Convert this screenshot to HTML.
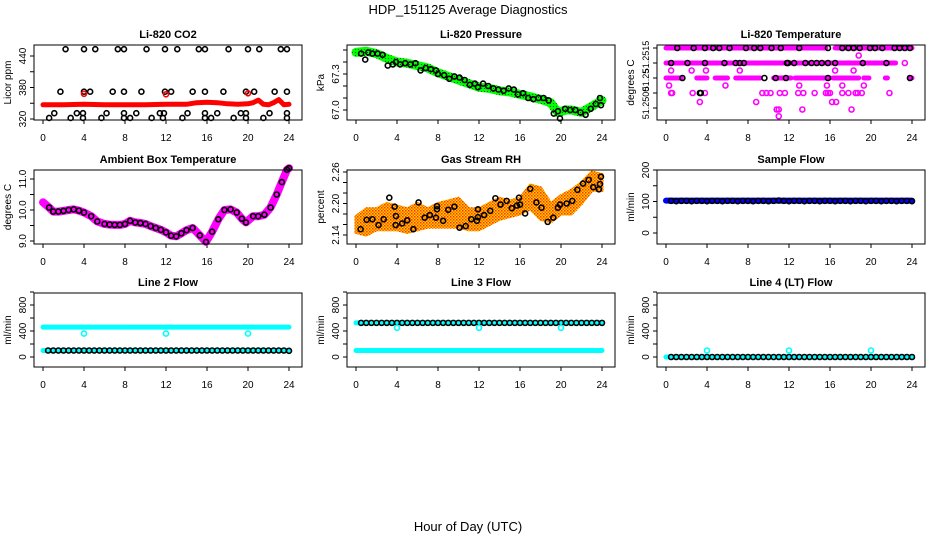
<!DOCTYPE html>
<html><head><meta charset="utf-8">
<style>
html,body{margin:0;padding:0;background:#fff;}
svg{display:block;font-family:"Liberation Sans",Arial,sans-serif;}
</style></head>
<body>
<svg id="chart" width="936" height="540" viewBox="0 0 936 540" xmlns="http://www.w3.org/2000/svg">
<defs>
<pattern id="rhpat" width="3" height="3" patternUnits="userSpaceOnUse">
<rect width="3" height="3" fill="#ffd000"/><rect x="0" y="0" width="1.5" height="1.5" fill="#ff3000"/><rect x="1.5" y="1.5" width="1.5" height="1.5" fill="#ff6000"/>
</pattern>
<pattern id="prpat" width="3" height="3" patternUnits="userSpaceOnUse">
<rect width="3" height="3" fill="#00ff00"/><rect x="1" y="1" width="1" height="1" fill="#006000"/>
</pattern>
</defs>
<text x="468" y="14" text-anchor="middle" font-size="13">HDP_151125  Average Diagnostics</text>
<text x="468" y="531" text-anchor="middle" font-size="13">Hour of Day (UTC)</text>
</svg>
<script>
// ---------- DATA ----------
const hourTicks=[0,4,8,12,16,20,24];
// CO2
const co2BandT=[0,2,4,6,8,10,12,14,15,16,17,18,19,20,20.5,21,21.5,22,22.5,23,23.5,24];
const co2BandV=[347,347,348,347,347,347,348,348,351,352,351,349,348,349,351,356,348,347,351,357,347,348];
const co2PtsT=[2.2,4,5.1,7.3,7.9,10.1,11.9,13.1,15.2,15.8,18.1,20,21.1,23.2,23.8,
 1.7,4,4.6,6.8,7.9,9.6,11.9,12.5,14.6,15.8,17.6,19.8,20.6,22.6,23.8,
 1.1,3.3,3.9,6.2,7.9,9.1,11.4,11.8,14.1,15.8,17,19.3,19.8,22.1,23.8,
 0.6,2.7,3.9,5.7,7.9,8.5,10.6,11.7,13.6,15.8,16.4,18.6,19.8,21.5,23.8];
const co2PtsV=[453,453,453,453,453,453,453,453,453,453,453,453,453,453,453,
 372,372,372,372,372,372,372,372,372,372,372,372,372,372,372,
 331,331,331,331,331,331,331,331,331,331,331,331,331,331,331,
 322,322,322,322,322,322,322,322,322,322,322,322,322,322,322];
const co2RedT=[4,12,20];
const co2RedV=[368,367,369];
// Pressure
const prBandT=[0,1,2,3,4,5,6,7,8,9,10,11,12,13,14,15,16,17,18,19,19.7,20.5,21,22,23,24];
const prBandV=[67.48,67.49,67.47,67.43,67.40,67.39,67.37,67.35,67.31,67.28,67.25,67.22,67.19,67.18,67.16,67.15,67.13,67.11,67.09,67.06,66.98,67.0,67.0,66.98,67.03,67.08];
const prPtsT=[0.5,0.9,1.2,1.6,2.1,2.6,3.1,3.6,3.9,4.3,4.8,5.3,5.8,6.3,6.8,7.3,7.8,8.0,8.6,9.1,9.6,10.1,10.6,11.1,11.6,11.9,12.4,12.9,13.4,13.9,14.4,14.9,15.4,15.8,16.3,16.8,17.3,17.8,18.3,18.8,19.3,19.7,19.9,20.4,20.9,21.4,21.9,22.4,22.9,23.4,23.8,23.9];
const prPtsV=[67.47,67.42,67.48,67.47,67.47,67.46,67.37,67.38,67.40,67.38,67.39,67.38,67.39,67.33,67.35,67.34,67.33,67.30,67.29,67.26,67.28,67.27,67.25,67.21,67.22,67.19,67.22,67.20,67.18,67.17,67.16,67.18,67.17,67.13,67.14,67.10,67.09,67.10,67.10,67.08,66.97,66.99,66.93,67.01,67.00,67.00,66.98,66.96,67.01,67.05,67.10,67.04];
// Li-820 temperature (tick-level units)
const tmpTickV=[1,2,3,4,5];
const tmpTickLabels=["","51.2500","51.25","","51.2515"];
const tmpSegStart=[0,16.5,0,0,3,4.8,6.8,10.5,12.6,16.3,19.3,21.4,23.8];
const tmpSegEnd=[15.6,24,22.4,1.5,4,6,9.2,12.2,16,18.8,19.8,21.6,24];
const tmpSegV=[5,5,4,3,3,3,3,3,3,3,3,3,3];
const tmpMagT=[0.5,2.5,3.9,7.2,16.5,18.3, 0.3,5.8,13,15.7,17.2,19.3, 0.5,0.6,2.6,3.8,9.4,9.8,10.2,11.1,11.6,12.9,13.4,14.5,15.6,15.8,16,17.2,17.8,18.5,18.7,19.1,21.8, 3.3,8.8,16.2,16.6, 10.8,11,13.3,18.1, 11, 18.8, 23.3];
const tmpMagV=[3.5,3.5,3.5,3.5,3.5,3.5, 2.5,2.5,2.5,2.5,2.5,2.5, 2,2,2,2,2,2,2,2,2,2,2,2,2,2,2,2,2,2,2,2,2, 1.4,1.4,1.4,1.4, 0.9,0.9,0.9,0.9, 0.45, 4.5, 4];
const tmpBlkT=[1.1,2.7,3.8,4.6,5.2,6.2,7.8,8.6,9.2,10.3,11.2,13.0,15.8,17.2,17.8,18.3,18.9,19.9,20.4,21.1,22.3,22.8,23.3,23.8,
 0.5,2.1,3.8,5.7,6.8,7.2,7.6,11.8,11.9,12.5,13.6,14.2,14.7,15.2,15.8,16.5,19.2,21.5,
 1.6,9.6,10.7,11.7,15.8,23.8, 3.3,3.4];
const tmpBlkV=[5,5,5,5,5,5,5,5,5,5,5,5,5,5,5,5,5,5,5,5,5,5,5,5,
 4,4,4,4,4,4,4,4,4,4,4,4,4,4,4,4,4,4,
 3,3,3,3,3,3, 2,2];
// Ambient box temperature
const ambT=[0,0.6,1,1.5,2,2.5,3,3.5,4,4.7,5.3,6,6.5,7,7.5,8,8.5,9,9.5,10,10.5,11,11.5,12,12.5,13,13.5,14,14.6,15.3,15.9,16.5,17.1,17.7,18.3,18.9,19.4,19.8,20.5,21,21.6,22.2,22.8,23.3,23.8,24];
const ambV=[10.25,10.08,9.95,9.95,9.97,10.0,10.02,9.98,9.92,9.8,9.63,9.55,9.53,9.52,9.52,9.55,9.65,9.6,9.58,9.55,9.48,9.42,9.36,9.28,9.17,9.15,9.25,9.35,9.42,9.18,8.97,9.3,9.7,10.0,10.02,9.92,9.72,9.6,9.8,9.8,9.85,10.08,10.5,10.9,11.3,11.35];
// Gas stream RH
const rhBandT=[0,1,2,3,4,5,6,7,8,9,10,11,12,13,14,15,16,17,18,19,20,21,22,23,24];
const rhLow=[2.145,2.14,2.15,2.15,2.15,2.145,2.15,2.155,2.155,2.155,2.155,2.15,2.15,2.16,2.17,2.175,2.18,2.19,2.17,2.165,2.18,2.18,2.2,2.225,2.225];
const rhHigh=[2.175,2.19,2.19,2.2,2.195,2.19,2.2,2.19,2.2,2.205,2.21,2.19,2.19,2.2,2.21,2.205,2.21,2.235,2.23,2.2,2.215,2.225,2.24,2.26,2.255];
const rhPtsT=[0.45,1.04,1.6,2.2,2.7,3.25,3.77,3.87,3.9,4.5,5.0,5.6,6.1,6.7,7.2,7.8,7.9,7.9,8.5,9.0,9.6,10.1,10.7,11.25,11.8,11.9,11.9,12.5,13.1,13.6,14.1,14.7,15.2,15.7,15.9,16.0,16.5,17.0,17.6,18.1,18.7,19.25,19.7,19.9,20.55,21.1,21.6,22.15,22.7,23.15,23.7,23.8,23.9];
const rhPtsV=[2.151,2.169,2.170,2.159,2.170,2.211,2.194,2.159,2.176,2.162,2.168,2.151,2.202,2.173,2.178,2.173,2.195,2.189,2.167,2.188,2.194,2.154,2.157,2.170,2.167,2.189,2.174,2.178,2.186,2.210,2.198,2.205,2.191,2.196,2.211,2.198,2.181,2.228,2.202,2.192,2.165,2.173,2.192,2.198,2.200,2.205,2.226,2.238,2.245,2.231,2.227,2.237,2.251];
// Flows
const flowT=[0.5,1,1.5,2,2.5,3,3.5,4,4.5,5,5.5,6,6.5,7,7.5,8,8.5,9,9.5,10,10.5,11,11.5,12,12.5,13,13.5,14,14.5,15,15.5,16,16.5,17,17.5,18,18.5,19,19.5,20,20.5,21,21.5,22,22.5,23,23.5,24];
const sampleV=[102,101,102,102,101,102,102,101,102,102,101,102,102,101,102,102,101,102,102,101,102,103,102,101,102,102,101,102,102,101,102,102,101,102,102,101,102,102,101,102,102,101,102,102,101,102,102,101];
const line2V=[100,100,100,100,100,100,100,100,100,100,100,100,100,100,100,100,100,100,100,100,100,100,100,100,100,100,100,100,100,100,100,100,100,100,100,100,100,100,100,100,100,100,100,100,100,100,100,95];
const line3V=[525,525,525,525,525,525,525,525,525,525,525,525,525,525,525,525,525,525,525,525,525,525,525,525,525,525,525,525,525,525,525,525,525,525,525,525,525,525,525,525,525,525,525,525,525,525,525,525];
const line4V=[0,0,0,0,0,0,0,0,0,0,0,0,0,0,0,0,0,0,0,0,0,0,0,0,0,0,0,0,0,0,0,0,0,0,0,0,0,0,0,0,0,0,0,0,0,0,0,0];
const bandT=[0,24];
const sampleBand=[103,103];
const line2HiBand=[460,460];
const line2LoBand=[100,100];
const line3HiBand=[525,525];
const line3LoBand=[100,100];
const line4Band=[0,0];
const dipT=[4,12,20];
const line2DipV=[360,360,360];
const line3DipV=[450,450,450];
const line4DipV=[100,100,100];
const flowTicks=[0,200,400,600,800,1000];
const flowTickLabels=["0","","400","","800",""];

// ---------- DRAWING ----------
const svg=document.getElementById('chart');
const NS='http://www.w3.org/2000/svg';
const colX=[43,356,666];
const rowTB=[[45,120],[170,244],[293,367]];
function el(tag,attrs,parent){const e=document.createElementNS(NS,tag);for(const k in attrs)e.setAttribute(k,attrs[k]);(parent||svg).appendChild(e);return e;}

function makePanel(name,col,row,title,yTitle,sy,ticks,labels,labelPos,labelSize){
  const top=rowTB[row][0],bot=rowTB[row][1],left=colX[col]-9;
  const g=el('g',{});
  
  
  const sx=t=>colX[col]+t*10.25;
  const p={g,sx,sy,top,bot,left};
  const tt=el('text',{x:left+134,y:top-7,'text-anchor':'middle','font-size':'11','font-weight':'bold'},g);
  tt.textContent=title;
  
  
  const yt=el('text',{transform:`translate(${left-23},${(top+bot)/2}) rotate(-90)`,'text-anchor':'middle','font-size':'10'},g);
  yt.textContent=yTitle;
  
  
  const xa=el('g',{},g);
  
  
  el('line',{x1:sx(0),x2:sx(24),y1:bot,y2:bot,stroke:'#000'},xa);
  hourTicks.forEach(h=>{
    el('line',{x1:sx(h),x2:sx(h),y1:bot,y2:bot+4,stroke:'#000'},xa);
    const t=el('text',{x:sx(h),y:bot+21,'text-anchor':'middle','font-size':'10'},xa);
    t.textContent=h;
    
    
  });
  const ya=el('g',{},g);
  
  
  ticks.forEach((v,i)=>{
    el('line',{x1:left-4,x2:left,y1:sy(v),y2:sy(v),stroke:'#000'},ya);
    if(labels[i]!==''){
      const ly=labelPos?labelPos[i]:sy(v);
      const t=el('text',{transform:`translate(${left-8},${ly}) rotate(-90)`,'text-anchor':'middle','font-size':labelSize||'10'},ya);
      t.textContent=labels[i];
      
      
    }
  });
  p.data=el('g',{},g);
  
  
  const box=el('rect',{x:left,y:top,width:268,height:bot-top,fill:'none',stroke:'#000'},g);
  
  
  return p;
}
function band(p,T,V,color,w,nm){
  const d=T.map((t,i)=>(i?'L':'M')+p.sx(t).toFixed(1)+','+p.sy(V[i]).toFixed(1)).join(' ');
  const e=el('path',{d,fill:'none',stroke:color,'stroke-width':w,'stroke-linecap':'round','stroke-linejoin':'round'},p.data);
  
  
}
function pts(p,T,V,color,nm,r){
  T.forEach((t,i)=>{
    const c=el('circle',{cx:p.sx(t),cy:p.sy(V[i]),r:r||2.5,fill:'none',stroke:color,'stroke-width':1.6},p.data);
    
    
  });
}
const flowSy=v=>357-v*0.065;

// Panel 1: CO2
let p=makePanel('co2-panel',0,0,'Li-820 CO2','Licor ppm',v=>119-(v-320)*0.525,[320,350,380,410,440],['320','','380','','440']);
band(p,co2BandT,co2BandV,'#ff0000',5,'co2-band');
pts(p,co2PtsT,co2PtsV,'#000','co2-point');
pts(p,co2RedT,co2RedV,'#ff0000','co2-red-point');

// Panel 2: Pressure
p=makePanel('pressure-panel',1,0,'Li-820 Pressure','kPa',v=>110-(v-67.0)*120,[67.0,67.1,67.2,67.3,67.4,67.5],['67.0','','','67.3','','']);
band(p,prBandT,prBandV,'url(#prpat)',9,'pressure-band');
pts(p,prPtsT,prPtsV,'#000','pressure-point');

// Panel 3: Li-820 temperature
p=makePanel('li820-temperature-panel',2,0,'Li-820 Temperature','degrees C',v=>108-(v-1)*15,tmpTickV,tmpTickLabels,[117,103,80,62,57],'9');
tmpSegStart.forEach((s,i)=>{
  const e=el('line',{x1:p.sx(s),x2:p.sx(tmpSegEnd[i]),y1:p.sy(tmpSegV[i]),y2:p.sy(tmpSegV[i]),stroke:'#ff00ff','stroke-width':5,'stroke-linecap':'round'},p.data);
  
  
});
pts(p,tmpMagT,tmpMagV,'#ff00ff','temperature-point');
pts(p,tmpBlkT,tmpBlkV,'#000','temperature-avg-point');

// Panel 4: Ambient box temperature
p=makePanel('ambient-temperature-panel',0,1,'Ambient Box Temperature','degrees C',v=>241-(v-9)*31,[9.0,9.5,10.0,10.5,11.0],['9.0','','10.0','','11.0']);
band(p,ambT,ambV,'#ff00ff',8,'ambient-band');
pts(p,ambT.slice(1),ambV.slice(1),'#000','ambient-point');

// Panel 5: Gas stream RH
p=makePanel('gas-rh-panel',1,1,'Gas Stream RH','percent',v=>235-(v-2.14)*525,[2.14,2.16,2.18,2.20,2.22,2.24,2.26],['2.14','','','2.20','','','2.26']);
{
  const up=rhBandT.map((t,i)=>p.sx(t).toFixed(1)+','+p.sy(rhHigh[i]).toFixed(1));
  const lo=rhBandT.map((t,i)=>p.sx(t).toFixed(1)+','+p.sy(rhLow[i]).toFixed(1)).reverse();
  const e=el('polygon',{points:up.concat(lo).join(' '),fill:'url(#rhpat)',stroke:'url(#rhpat)','stroke-width':3},p.data);
  
  
}
pts(p,rhPtsT,rhPtsV,'#000','rh-point');

// Panel 6: Sample flow
p=makePanel('sample-flow-panel',2,1,'Sample Flow','ml/min',v=>233-v*0.315,[0,50,100,150,200],['0','','100','','200']);
band(p,bandT,sampleBand,'#0000ff',6,'sample-flow-band');
pts(p,flowT,sampleV,'#000','sample-flow-point');

// Panel 7: Line 2
p=makePanel('line2-flow-panel',0,2,'Line 2 Flow','ml/min',flowSy,flowTicks,flowTickLabels);
band(p,bandT,line2HiBand,'#00ffff',5,'line2-high-band');
band(p,bandT,line2LoBand,'#00ffff',5,'line2-low-band');
pts(p,flowT,line2V,'#000','line2-point');
pts(p,dipT,line2DipV,'#00ffff','line2-dip-point');

// Panel 8: Line 3
p=makePanel('line3-flow-panel',1,2,'Line 3 Flow','ml/min',flowSy,flowTicks,flowTickLabels);
band(p,bandT,line3HiBand,'#00ffff',5,'line3-high-band');
band(p,bandT,line3LoBand,'#00ffff',5,'line3-low-band');
pts(p,flowT,line3V,'#000','line3-point');
pts(p,dipT,line3DipV,'#00ffff','line3-dip-point');

// Panel 9: Line 4
p=makePanel('line4-flow-panel',2,2,'Line 4 (LT) Flow','ml/min',flowSy,flowTicks,flowTickLabels);
band(p,bandT,line4Band,'#00ffff',5,'line4-band');
pts(p,flowT,line4V,'#000','line4-point');
pts(p,dipT,line4DipV,'#00ffff','line4-dip-point');
</script>
</body></html>
